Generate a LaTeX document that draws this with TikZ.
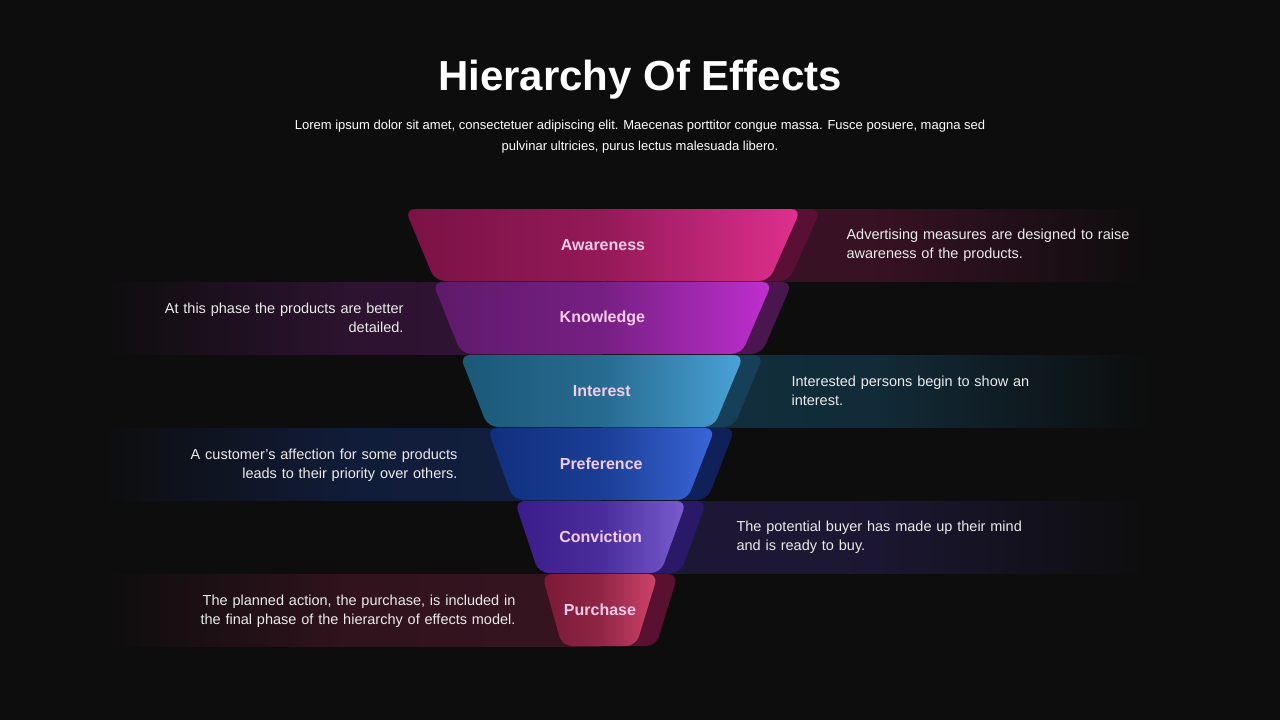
\documentclass[tikz,border=0pt]{standalone}
\usepackage{fontspec}
\setmainfont{Liberation Sans}
\definecolor{bg}{HTML}{0D0D0D}
\definecolor{lbl}{HTML}{F4CBEB}
\definecolor{aA}{HTML}{7A1245}\definecolor{aB}{HTML}{E0308F}\definecolor{aS}{HTML}{5A0F35}\definecolor{aT}{HTML}{3E1228}
\definecolor{kA}{HTML}{5E1A6A}\definecolor{kB}{HTML}{C02FD0}\definecolor{kS}{HTML}{4A1650}\definecolor{kT}{HTML}{321436}
\definecolor{iA}{HTML}{1B5878}\definecolor{iB}{HTML}{4AA3D8}\definecolor{iS}{HTML}{163F58}\definecolor{iT}{HTML}{12303F}
\definecolor{pA}{HTML}{10307E}\definecolor{pB}{HTML}{3A66D8}\definecolor{pS}{HTML}{0F2158}\definecolor{pT}{HTML}{111F40}
\definecolor{cA}{HTML}{3A1C8A}\definecolor{cB}{HTML}{7A5ED0}\definecolor{cS}{HTML}{2A1868}\definecolor{cT}{HTML}{1E1838}
\definecolor{uA}{HTML}{7A1A38}\definecolor{uB}{HTML}{D0456A}\definecolor{uS}{HTML}{5A1030}\definecolor{uT}{HTML}{361420}
\tikzset{
 lab/.style={text=lbl,font=\bfseries\fontsize{16}{18}\selectfont},
 desc/.style={text=white!92!black,font=\fontsize{14.5}{19}\selectfont,align=left,anchor=west,text width=320pt},
 descl/.style={text=white!92!black,font=\fontsize{14.5}{19}\selectfont,align=right,anchor=east,text width=330pt},
}
\begin{document}
\begin{tikzpicture}[x=1pt,y=-1pt]
\fill[bg] (0,0) rectangle (1280,720);
\useasboundingbox (0,0) rectangle (1280,720);
\node[text=white,font=\bfseries\fontsize{42}{46}\selectfont] (title) at (640,80) {Hierarchy Of Effects};
\node[text=white,font=\fontsize{13}{21}\selectfont,align=center] (sub) at (640,137) {Lorem ipsum dolor sit amet, consectetuer adipiscing elit. Maecenas porttitor congue massa. Fusce posuere, magna sed\\pulvinar ultricies, purus lectus malesuada libero.};
\foreach \i/\c/\t/\s/\inset in {0/a/Awareness/1/30,1/k/Knowledge/-1/29,2/i/Interest/1/28,3/p/Preference/-1/26,4/c/Conviction/1/24,5/u/Purchase/-1/20}{
 \pgfmathsetmacro{\T}{209+73*\i}
 \pgfmathsetmacro{\B}{\T+72}
 \pgfmathsetmacro{\L}{405+27.4*\i}
 \pgfmathsetmacro{\R}{801-28.6*\i}
 \pgfmathsetmacro{\M}{(\L+\R)/2}
 \ifnum\s=1
   \shade[left color=\c T,right color=bg,middle color=\c T!85!bg] (\M,\T) rectangle (1150,\B);
 \else
   \shade[right color=\c T,left color=bg,middle color=\c T!85!bg] (100,\T) rectangle (\M,\B);
 \fi
 \fill[\c S,rounded corners=10pt] (\L+20,\T) -- (\R+20,\T) -- (\R+20-\inset-2,\B) -- (\L+20+\inset,\B) -- cycle;
 \shade[left color=\c A,right color=\c B,middle color=\c A!75!\c B,rounded corners=10pt] (\L,\T) -- (\R,\T) -- (\R-\inset-2,\B) -- (\L+\inset,\B) -- cycle;
 \node[lab] (n\i) at (\M,\T+36) {\t};
}
\node[desc] (d0) at (843,245) {Advertising measures are designed to raise awareness of the products.};
\node[descl] (d1) at (407,318) {At this phase the products are better\\detailed.};
\node[desc] (d2) at (788,391) {Interested persons begin to show an\\interest.};
\node[descl] (d3) at (461,465) {A customer’s affection for some products\\leads to their priority over others.};
\node[desc] (d4) at (733,537) {The potential buyer has made up their mind\\and is ready to buy.};
\node[descl] (d5) at (519,611) {The planned action, the purchase, is included in\\the final phase of the hierarchy of effects model.};
\end{tikzpicture}
\end{document}
